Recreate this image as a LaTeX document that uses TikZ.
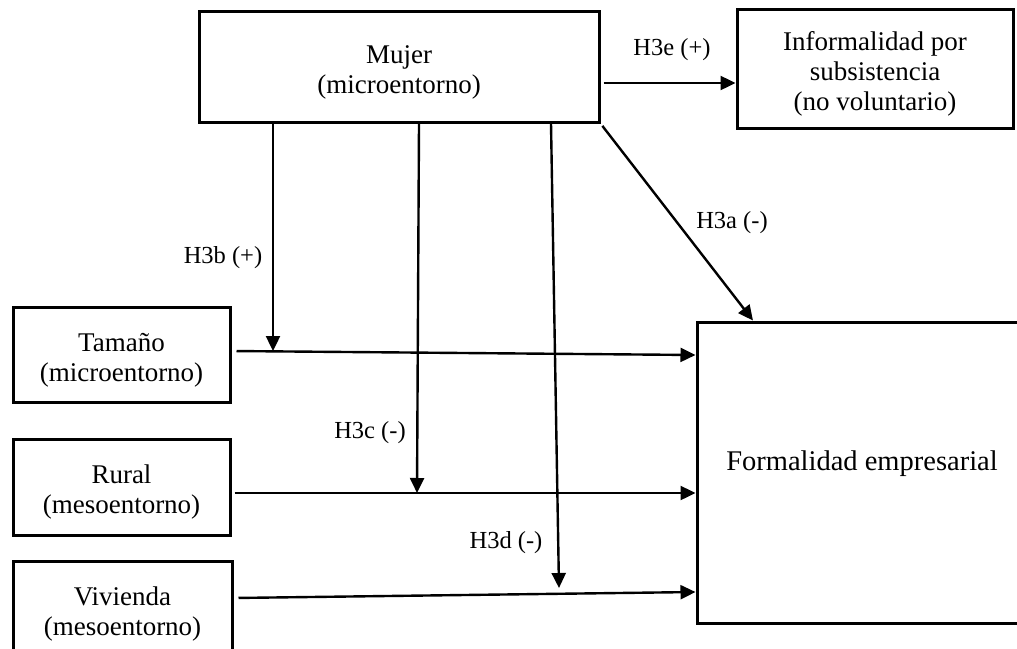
\documentclass[tikz,border=0pt]{standalone}
\usepackage{fontspec}
\setmainfont{Liberation Serif}
\usetikzlibrary{arrows.meta}
% taller first line, so that two- and three-line texts sit a little lower in their boxes
\newcommand{\firstline}{\rule{0pt}{29pt}}
\begin{document}
\begin{tikzpicture}[x=1pt,y=-1pt,
  box/.style={draw=black, line width=3pt, align=center, inner sep=0pt,
              font=\fontsize{27}{30}\selectfont},
  arr/.style={draw=black, line width=2.4pt, -{Triangle[length=15pt,width=14pt]}},
  hyp/.style={font=\fontsize{24.5}{28}\selectfont, inner sep=0pt}]
\useasboundingbox (0,0) rectangle (1017,648);
\fill[white] (0,0) rectangle (1017,648);
\clip (0,0) rectangle (1017,648);

% variables
\node[box, minimum width=400pt, minimum height=111pt] (mujer) at (399,66.5)
  {\firstline Mujer\\(microentorno)};
\node[box, minimum width=276pt, minimum height=119pt] (inf) at (875,68.5)
  {\firstline Informalidad por\\subsistencia\\(no voluntario)};
\node[box, minimum width=217pt, minimum height=95pt] (tam) at (121.5,354.5)
  {\firstline Tamaño\\(microentorno)};
\node[box, minimum width=217pt, minimum height=96pt] (rur) at (121.5,487)
  {\firstline Rural\\(mesoentorno)};
\node[box, minimum width=219pt, minimum height=96pt] (viv) at (122.5,609)
  {\firstline Vivienda\\(mesoentorno)};
\node[box, minimum width=330pt, minimum height=301pt, text height=19pt, text depth=24pt,
      font=\fontsize{28.5}{30}\selectfont] (form) at (862,472.5)
  {Formalidad empresarial};

% hypothesis labels
\node[hyp] (lb) at (223,258) {H3b (+)};
\node[hyp] (lc) at (370,433) {H3c (-)};
\node[hyp] (ld) at (506,543) {H3d (-)};
\node[hyp] (la) at (732,223) {H3a (-)};
\node[hyp] (le) at (672,50) {H3e (+)};

% points where the moderating arrows meet the direct paths
\coordinate (tb) at (273,351);
\coordinate (tc) at (417,493);
\coordinate (td) at (559,588);

% direct paths
\draw[arr, shorten <=3pt] (mujer.east |- 0,83) -- (inf.west |- 0,83);
\draw[arr, shorten <=3pt] (mujer.south east) -- (form.north west -| 753,0);
\draw[arr, shorten <=5pt] (tam.east |- 0,351) -- (form.west |- 0,355);
\draw[arr, shorten <=3pt] (rur.east |- 0,493) -- (form.west |- 0,493);
\draw[arr, shorten <=5pt] (viv.east |- 0,598) -- (form.west |- 0,592);

% moderating paths
\draw[arr] (mujer.south -| tb) -- (tb);
\draw[arr] (mujer.south -| 419,0) -- (tc);
\draw[arr] (mujer.south -| 551,0) -- (td);
\end{tikzpicture}
\end{document}
